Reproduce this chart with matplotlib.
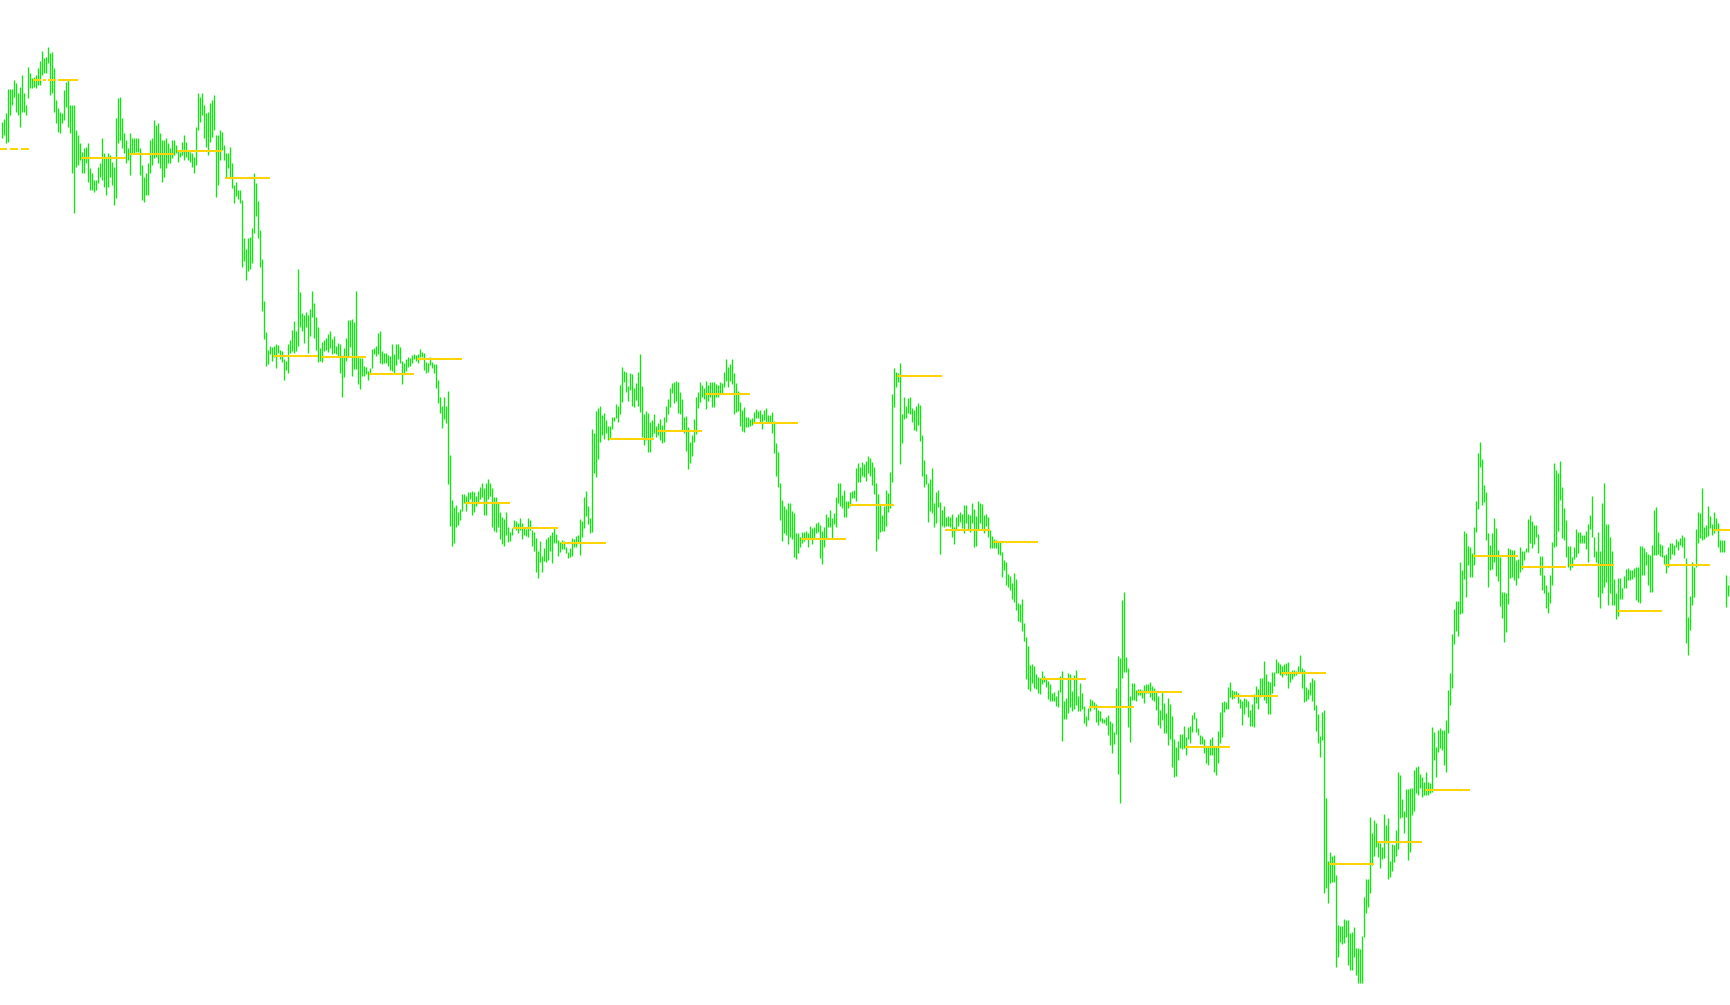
import matplotlib
matplotlib.use("Agg")
import matplotlib.pyplot as plt

# ── Bar data (top / bottom of each bar, chart units, y grows downward) ──
bar_top = [
    122, 119, 113, 89, 89, 89, 80, 83, 93, 87,
    75, 93, 105, 67, 73, 78, 77, 75, 68, 61,
    51, 58, 57, 47, 53, 52, 68, 100, 108, 112,
    113, 90, 82, 80, 105, 105, 105, 130, 135, 143,
    152, 148, 147, 143, 168, 173, 180, 180, 167, 163,
    138, 153, 157, 153, 155, 162, 167, 118, 98, 97,
    118, 133, 140, 148, 133, 138, 138, 138, 138, 148,
    165, 177, 173, 163, 140, 138, 120, 125, 123, 133,
    140, 140, 138, 143, 148, 140, 140, 145, 150, 152,
    142, 135, 142, 150, 152, 153, 157, 127, 93, 97,
    93, 105, 113, 112, 103, 100, 95, 135, 135, 130,
    132, 145, 153, 153, 147, 163, 185, 182, 190, 190,
    200, 238, 249, 238, 237, 228, 173, 183, 201, 230,
    259, 301, 332, 350, 346, 347, 346, 344, 345, 350,
    351, 359, 361, 344, 340, 330, 321, 331, 269, 292,
    313, 315, 312, 315, 309, 291, 303, 317, 327, 348,
    342, 340, 338, 334, 331, 339, 336, 346, 343, 344,
    357, 348, 338, 320, 320, 319, 322, 291, 357, 358,
    358, 366, 367, 371, 368, 349, 348, 346, 333, 331,
    351, 353, 353, 355, 356, 344, 354, 344, 344, 347,
    361, 363, 359, 357, 358, 355, 354, 355, 354, 349,
    352, 353, 362, 363, 357, 362, 364, 364, 380, 397,
    406, 397, 406, 391, 455, 500, 507, 505, 512, 509,
    494, 494, 496, 492, 492, 491, 492, 496, 491, 487,
    483, 488, 483, 479, 483, 488, 497, 497, 503, 512,
    517, 519, 512, 527, 532, 528, 520, 521, 523, 518,
    523, 528, 529, 518, 520, 530, 532, 538, 551, 541,
    556, 548, 539, 537, 535, 532, 528, 534, 540, 542,
    540, 541, 547, 552, 548, 538, 539, 536, 535, 519,
    521, 497, 491, 506, 518, 429, 433, 411, 408, 406,
    415, 413, 420, 426, 426, 417, 417, 404, 406, 385,
    367, 371, 372, 386, 373, 374, 388, 383, 372, 354,
    386, 414, 411, 413, 422, 420, 414, 426, 423, 419,
    425, 417, 406, 399, 388, 383, 382, 381, 382, 392,
    399, 417, 416, 427, 442, 435, 419, 397, 392, 382,
    385, 388, 381, 385, 382, 382, 382, 384, 385, 382,
    383, 372, 359, 367, 364, 359, 373, 383, 391, 402,
    410, 407, 417, 417, 419, 418, 412, 409, 411, 410,
    414, 410, 408, 415, 415, 412, 421, 443, 452, 483,
    500, 506, 509, 503, 503, 511, 513, 533, 533, 537,
    532, 532, 531, 533, 526, 528, 527, 523, 522, 525,
    531, 527, 514, 517, 510, 518, 513, 497, 483, 483,
    495, 490, 501, 501, 492, 491, 490, 468, 463, 467,
    462, 464, 461, 456, 458, 462, 467, 483, 494, 504,
    515, 506, 490, 493, 472, 394, 368, 372, 373, 363,
    414, 397, 406, 398, 397, 408, 410, 406, 403, 405,
    435, 460, 474, 483, 479, 468, 503, 492, 490, 502,
    510, 506, 517, 516, 517, 514, 527, 517, 514, 512,
    514, 505, 505, 514, 515, 503, 509, 516, 501, 503,
    504, 515, 514, 517, 530, 536, 539, 540, 542, 542,
    552, 560, 562, 574, 576, 583, 573, 579, 603, 604,
    599, 623, 637, 646, 665, 664, 666, 674, 677, 678,
    671, 676, 679, 681, 684, 693, 692, 696, 690, 676,
    671, 701, 698, 673, 674, 691, 675, 670, 696, 683,
    693, 706, 716, 708, 699, 700, 702, 704, 710, 711,
    718, 719, 717, 715, 721, 723, 732, 688, 656, 658,
    600, 592, 657, 668, 696, 683, 683, 690, 689, 689,
    690, 685, 684, 684, 682, 686, 688, 691, 696, 710,
    691, 703, 713, 698, 704, 716, 739, 747, 741, 734,
    734, 726, 737, 727, 726, 715, 712, 718, 728, 735,
    736, 739, 746, 746, 739, 737, 747, 746, 731, 712,
    702, 701, 702, 687, 682, 690, 691, 691, 693, 699,
    701, 698, 699, 701, 710, 704, 694, 686, 689, 678,
    678, 661, 674, 681, 682, 672, 672, 659, 662, 664,
    666, 664, 663, 662, 672, 670, 670, 671, 666, 655,
    668, 670, 687, 689, 682, 678, 680, 705, 714, 736,
    712, 710, 798, 861, 852, 856, 855, 875, 925, 926,
    926, 919, 920, 920, 933, 932, 927, 948, 948, 949,
    936, 897, 879, 879, 817, 833, 820, 823, 841, 843,
    847, 814, 825, 818, 861, 844, 845, 830, 772, 775,
    799, 811, 789, 789, 788, 788, 770, 767, 766, 774,
    777, 782, 772, 782, 783, 727, 732, 747, 730, 728,
    730, 730, 720, 690, 673, 634, 609, 601, 601, 562,
    570, 531, 533, 546, 547, 553, 527, 501, 453, 442,
    459, 485, 492, 533, 545, 533, 518, 528, 550, 557,
    592, 592, 593, 548, 549, 550, 550, 560, 559, 547,
    551, 551, 548, 519, 515, 521, 525, 525, 534, 556,
    556, 575, 585, 592, 575, 542, 463, 470, 473, 461,
    487, 508, 520, 546, 546, 557, 547, 529, 532, 532,
    535, 535, 531, 524, 515, 496, 537, 551, 532, 551,
    503, 483, 524, 524, 537, 551, 579, 593, 578, 578,
    588, 576, 569, 568, 570, 570, 568, 567, 567, 546,
    546, 548, 552, 554, 555, 545, 510, 507, 532, 544,
    545, 555, 554, 547, 543, 543, 545, 539, 541, 538,
    535, 537, 558, 617, 596, 562, 567, 529, 512, 513,
    488, 527, 525, 506, 516, 524, 512, 518, 523, 540,
    540, 540, 575, 585, 576,
]

bar_bottom = [
    138, 135, 143, 142, 115, 105, 97, 112, 115, 127,
    112, 112, 115, 98, 88, 88, 87, 88, 85, 85,
    75, 73, 73, 63, 95, 93, 112, 123, 132, 133,
    123, 120, 107, 127, 133, 173, 213, 167, 165, 160,
    173, 173, 163, 182, 190, 190, 192, 190, 183, 177,
    180, 187, 195, 187, 177, 185, 205, 198, 143, 140,
    148, 153, 163, 160, 175, 153, 153, 152, 152, 175,
    200, 202, 195, 195, 173, 165, 158, 157, 163, 168,
    182, 177, 168, 163, 163, 158, 155, 153, 162, 157,
    155, 160, 157, 160, 162, 167, 173, 165, 130, 122,
    115, 138, 147, 155, 142, 137, 130, 197, 185, 160,
    150, 160, 178, 168, 177, 188, 203, 196, 199, 203,
    267, 261, 280, 271, 269, 263, 233, 216, 238, 267,
    311, 339, 366, 364, 354, 361, 357, 368, 353, 359,
    362, 380, 370, 373, 353, 351, 353, 351, 346, 327,
    331, 343, 327, 353, 336, 317, 338, 350, 362, 361,
    362, 351, 350, 352, 348, 354, 353, 354, 357, 373,
    397, 377, 361, 357, 347, 376, 369, 369, 384, 389,
    376, 376, 374, 380, 374, 368, 354, 356, 354, 363,
    364, 363, 363, 366, 370, 371, 374, 365, 359, 363,
    384, 374, 371, 367, 366, 363, 359, 361, 363, 357,
    357, 370, 373, 372, 365, 368, 373, 388, 403, 413,
    428, 419, 423, 484, 526, 546, 543, 527, 525, 520,
    511, 503, 511, 503, 499, 515, 512, 506, 502, 499,
    497, 515, 515, 499, 496, 527, 531, 532, 527, 539,
    544, 546, 535, 542, 541, 535, 528, 530, 533, 530,
    539, 535, 536, 537, 530, 546, 551, 572, 578, 562,
    572, 561, 562, 560, 551, 563, 543, 543, 556, 552,
    549, 549, 553, 558, 557, 556, 547, 547, 542, 555,
    537, 528, 516, 524, 533, 532, 473, 477, 459, 442,
    435, 439, 433, 440, 438, 429, 421, 418, 422, 414,
    402, 382, 392, 401, 390, 406, 407, 400, 406, 412,
    437, 445, 440, 452, 452, 437, 433, 437, 435, 440,
    443, 442, 422, 414, 407, 393, 403, 401, 413, 414,
    430, 433, 451, 469, 463, 456, 442, 434, 408, 402,
    397, 399, 409, 401, 397, 407, 407, 397, 397, 393,
    393, 387, 381, 387, 381, 384, 414, 412, 411, 426,
    431, 432, 427, 427, 426, 425, 423, 418, 418, 423,
    429, 420, 422, 422, 422, 433, 453, 476, 487, 520,
    541, 533, 535, 544, 537, 539, 557, 559, 553, 547,
    543, 541, 539, 547, 539, 544, 538, 533, 532, 558,
    564, 547, 538, 527, 527, 539, 524, 527, 503, 506,
    508, 517, 517, 508, 506, 498, 498, 501, 482, 482,
    476, 477, 481, 473, 476, 485, 494, 551, 539, 532,
    531, 531, 526, 512, 508, 482, 407, 387, 382, 464,
    443, 419, 418, 413, 414, 422, 430, 431, 425, 441,
    476, 487, 484, 522, 511, 513, 527, 523, 507, 554,
    526, 527, 526, 526, 527, 537, 544, 530, 526, 522,
    528, 533, 523, 529, 532, 523, 547, 546, 530, 523,
    530, 533, 526, 537, 548, 548, 548, 548, 554, 555,
    577, 570, 585, 587, 590, 599, 602, 610, 621, 622,
    631, 641, 679, 689, 691, 683, 688, 689, 693, 694,
    684, 682, 687, 699, 701, 701, 701, 706, 707, 692,
    741, 719, 719, 713, 707, 711, 709, 705, 711, 711,
    709, 723, 726, 720, 711, 707, 709, 722, 725, 721,
    723, 723, 725, 735, 745, 753, 744, 734, 774, 803,
    678, 672, 672, 727, 742, 700, 700, 701, 695, 695,
    698, 703, 693, 693, 697, 700, 701, 710, 725, 728,
    720, 733, 733, 745, 739, 767, 777, 776, 760, 748,
    749, 748, 755, 739, 743, 732, 719, 732, 735, 744,
    744, 753, 763, 765, 755, 755, 772, 775, 763, 743,
    737, 712, 709, 709, 697, 699, 698, 696, 703, 708,
    725, 714, 707, 717, 726, 726, 727, 703, 709, 697,
    696, 700, 703, 714, 714, 693, 686, 673, 673, 675,
    677, 674, 675, 688, 682, 679, 676, 675, 673, 673,
    688, 702, 701, 699, 695, 701, 710, 731, 743, 757,
    740, 893, 888, 903, 883, 882, 882, 967, 957, 942,
    944, 943, 937, 965, 970, 970, 957, 975, 983, 983,
    983, 937, 913, 907, 893, 865, 856, 847, 857, 868,
    859, 858, 843, 879, 877, 871, 862, 856, 849, 818,
    817, 833, 817, 860, 852, 815, 811, 793, 795, 788,
    797, 795, 795, 795, 793, 792, 760, 777, 752, 748,
    750, 765, 772, 733, 705, 688, 644, 631, 636, 614,
    613, 579, 597, 565, 577, 577, 565, 532, 509, 467,
    505, 502, 540, 587, 570, 569, 562, 576, 581, 606,
    618, 642, 632, 604, 578, 577, 580, 585, 578, 572,
    569, 560, 552, 552, 543, 548, 544, 537, 553, 575,
    590, 593, 608, 613, 603, 585, 547, 546, 531, 500,
    538, 540, 557, 567, 570, 567, 559, 557, 553, 543,
    543, 543, 549, 562, 529, 537, 557, 562, 597, 608,
    593, 587, 582, 605, 593, 605, 605, 619, 616, 599,
    599, 588, 588, 580, 580, 579, 577, 600, 602, 603,
    575, 575, 565, 585, 592, 592, 555, 555, 554, 556,
    557, 564, 573, 567, 559, 554, 555, 547, 550, 545,
    547, 558, 643, 655, 630, 605, 597, 567, 543, 538,
    540, 539, 537, 536, 528, 535, 533, 530, 547, 552,
    552, 552, 607, 596, 592,
]

# ── Period levels (one every 24 bars, first one is partly off-screen) ──
level_values = [149, 80, 158, 154, 151, 178, 356, 357, 374, 359, 503, 528,
                543, 439, 431, 394, 423, 539, 505, 376, 530, 542, 679, 707,
                692, 747, 696, 673, 864, 842, 790, 556, 567, 565, 611, 565,
                530]
LEVEL_PERIOD = 24
LEVEL_OFFSET = -8      # bar index where the first level starts
LEVEL_LEN = 22         # bars covered by each level line

GREEN = '#0fe80f'
GOLD = '#ffd400'

n = len(bar_top)
x = list(range(n))

fig = plt.figure(figsize=(17.3, 10.05), dpi=100)
ax = fig.add_axes([0, 0, 1, 1])
ax.set_axis_off()

# bars, ~1 px wide with soft edges
ax.vlines(x, bar_top, bar_bottom, colors=GREEN, linewidth=0.95)

# level lines
lw_level = 1.3
for k, lvl in enumerate(level_values):
    start = LEVEL_OFFSET + k * LEVEL_PERIOD
    end = start + LEVEL_LEN
    if k == 0:
        ax.hlines(lvl, start - 0.5, end, colors=GOLD, linewidth=lw_level,
                  linestyles=(0, (4, 2)), antialiased=False)
    elif k == 1:
        mid = start + 12
        ax.hlines(lvl, start - 0.5, mid, colors=GOLD, linewidth=lw_level,
                  linestyles=(0, (4, 1.5, 1.2, 1.5)), antialiased=False)
        ax.hlines(lvl, mid, end, colors=GOLD, linewidth=lw_level,
                  antialiased=False)
    else:
        ax.hlines(lvl, start - 0.5, end, colors=GOLD, linewidth=lw_level,
                  antialiased=False)

ax.set_xlim(-0.75, n - 0.75)
ax.set_ylim(1005, 0)

fig.savefig('out.png', dpi=100, facecolor='white')
